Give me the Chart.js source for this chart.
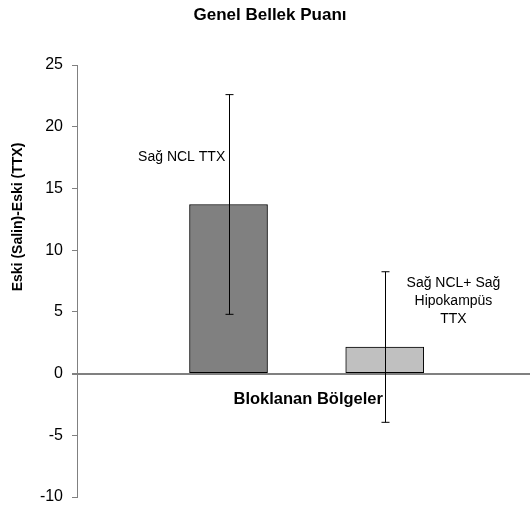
<!DOCTYPE html>
<html>
<head>
<meta charset="utf-8">
<script src="https://cdn.jsdelivr.net/npm/chart.js@4/dist/chart.umd.min.js"></script>
<style>
	body { margin: 0; background: #fff; }
	#wrap { width: 530px; height: 506px; }
</style>
</head>
<body>
<div id="wrap"><canvas id="c"></canvas></div>
<script>
// data
const chartTitle = 'Genel Bellek Puanı';
const xTitle = 'Bloklanan Bölgeler';
const yTitle = 'Eski (Salin)-Eski (TTX)';
const categories = [['Sağ NCL TTX'], ['Sağ NCL+ Sağ', 'Hipokampüs', 'TTX']];
const positions = [1, 2];
const means = [13.7, 2.15];
const errors = [8.9, 6.1];
const yMin = -10, yMax = 25, yStep = 5;

const FONT = '"Liberation Sans", Arial, sans-serif';

// error bars on top of the bars
const errorBars = {
	id: 'errorBars',
	afterDatasetsDraw(chart) {
		const ctx = chart.ctx;
		const xs = chart.scales.x, ys = chart.scales.y;
		ctx.save();
		ctx.strokeStyle = '#000';
		ctx.lineWidth = 1;
		for (let i = 0; i < means.length; i++) {
			const x = Math.round(xs.getPixelForValue(positions[i])) + 0.5;
			const top = ys.getPixelForValue(means[i] + errors[i]);
			const bot = ys.getPixelForValue(means[i] - errors[i]);
			ctx.beginPath();
			ctx.moveTo(x, top); ctx.lineTo(x, bot);
			ctx.moveTo(x - 4, top); ctx.lineTo(x + 4, top);
			ctx.moveTo(x - 4, bot); ctx.lineTo(x + 4, bot);
			ctx.stroke();
		}
		ctx.restore();
	}
};

// titles and the bar labels
const texts = {
	id: 'texts',
	afterDraw(chart, args, opts) {
		const ctx = chart.ctx;
		const xs = chart.scales.x, ys = chart.scales.y;
		ctx.save();
		ctx.fillStyle = '#000';
		ctx.textAlign = 'center';
		ctx.textBaseline = 'middle';

		ctx.font = 'bold 17px ' + FONT;
		ctx.fillText(chartTitle, 270, 15);

		ctx.font = 'bold 16.5px ' + FONT;
		ctx.fillText(xTitle, xs.getPixelForValue(opts.xTitleAt[0]), ys.getPixelForValue(opts.xTitleAt[1]));

		ctx.font = 'bold 14px ' + FONT;
		ctx.save();
		ctx.translate(18, 217);
		ctx.rotate(-Math.PI / 2);
		ctx.fillText(yTitle, 0, 0);
		ctx.restore();

		ctx.font = '14px ' + FONT;
		categories.forEach((lines, i) => {
			const cx = xs.getPixelForValue(opts.labelAt[i][0]);
			const cy = ys.getPixelForValue(opts.labelAt[i][1]);
			const lh = 18;
			lines.forEach((t, j) => {
				ctx.fillText(t, cx, cy + (j - (lines.length - 1) / 2) * lh);
			});
		});
		ctx.restore();
	}
};

new Chart(document.getElementById('c'), {
	type: 'bar',
	data: {
		datasets: [{
			data: positions.map((x, i) => ({ x: x, y: means[i] })),
			backgroundColor: ['#808080', '#c0c0c0'],
			borderColor: '#000',
			borderWidth: 1,
			borderSkipped: false,
			barThickness: 78
		}]
	},
	options: {
		responsive: true,
		maintainAspectRatio: false,
		animation: false,
		layout: { padding: { top: 65, bottom: 0, left: 0, right: 0 } },
		plugins: {
			legend: { display: false },
			tooltip: { enabled: false },
			texts: {
				labelAt: [[0.70, 17.5], [2.44, 5.9]],
				xTitleAt: [1.51, -2.1]
			}
		},
		scales: {
			x: {
				type: 'linear',
				display: false,
				offset: false,
				min: 0.03,
				max: 2.93
			},
			y: {
				min: yMin,
				max: yMax,
				afterFit(s) {
					s.width = 77;
					s.paddingBottom = 9;
				},
				ticks: {
					stepSize: yStep,
					padding: 9,
					color: '#000',
					font: { family: FONT, size: 16 }
				},
				grid: {
					drawOnChartArea: true,
					tickLength: 5,
					tickColor: '#808080',
					color: c => c.tick && c.tick.value === 0 ? '#808080' : 'rgba(0,0,0,0)',
					lineWidth: c => c.tick && c.tick.value === 0 ? 2 : 1
				},
				border: { color: '#808080', width: 1 }
			}
		}
	},
	plugins: [errorBars, texts]
});
</script>
</body>
</html>
